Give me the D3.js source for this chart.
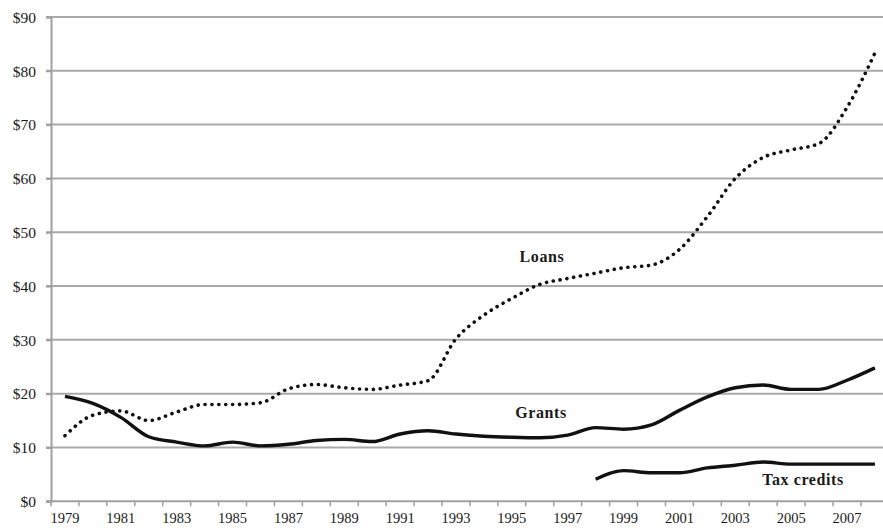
<html>
    <style>
        body {
            margin: 0px;
            background: #fff;
        }
        text {
            font-family: "Liberation Serif", "DejaVu Serif", serif;
            fill: #1a1a1a;
        }
    </style>
<body>
    <svg id='viz'></svg>
</body>

<script src='https://d3js.org/d3.v7.min.js'></script>
<script>
var width = 883;
var height = 528;

// data, billions of dollars
var years = d3.range(1979, 2009);
var yTicks = [0, 10, 20, 30, 40, 50, 60, 70, 80, 90];
var loans = [12.2, 16.0, 16.8, 15.0, 16.6, 18.0, 18.0, 18.3, 20.9, 21.7,
             21.1, 20.8, 21.6, 22.4, 30.2, 34.6, 37.7, 40.3, 41.4, 42.4,
             43.4, 43.9, 46.8, 52.9, 60.0, 63.9, 65.3, 66.5, 73.2, 83.3];
var grants = [19.5, 18.2, 15.6, 12.0, 11.0, 10.3, 11.0, 10.3, 10.6, 11.3,
              11.5, 11.1, 12.5, 13.1, 12.5, 12.1, 11.9, 11.8, 12.3, 13.7,
              13.4, 14.2, 16.9, 19.4, 21.1, 21.6, 20.8, 20.8, 22.5, 24.8];
var taxYears = d3.range(1998, 2009);
var taxCredits = [4.1, 5.7, 5.3, 5.3, 6.2, 6.7, 7.3, 6.9, 6.9, 6.9, 6.9];

var svg = d3.select("#viz").attr("width", width).attr("height", height);

var x = d3.scaleBand().domain(years).range([51, 51 + 30 * 27.93]).padding(0);
var y = d3.scaleLinear().domain([0, 90]).range([501.3, 17]);
var cx = function(yr) { return x(yr) + x.bandwidth() / 2; };

// gridlines
svg.append("g")
    .selectAll("line")
    .data(yTicks.filter(function(d) { return d > 0; }))
    .enter()
    .append("line")
    .attr("x1", 46)
    .attr("x2", width)
    .attr("y1", function(d) { return y(d); })
    .attr("y2", function(d) { return y(d); })
    .attr("stroke", "#a9a9a9")
    .attr("stroke-width", 2);

// y axis
var yAxis = svg.append("g")
    .attr("transform", "translate(51,0)")
    .call(d3.axisLeft(y).tickValues(yTicks).tickSize(5).tickPadding(10)
        .tickFormat(function(d) { return "$" + d; }));
yAxis.select(".domain").attr("stroke", "#a0a0a0").attr("stroke-width", 2);
yAxis.selectAll(".tick line").attr("stroke", "#a0a0a0").attr("stroke-width", 2);
yAxis.selectAll("text")
    .style("font-size", "15.5px")
    .style("fill", "#1a1a1a")
    .attr("dy", "0.34em");

// x axis: tick marks at category boundaries, labels on odd years
var xg = svg.append("g");
xg.append("line")
    .attr("x1", 46).attr("x2", width)
    .attr("y1", y(0)).attr("y2", y(0))
    .attr("stroke", "#a0a0a0").attr("stroke-width", 2);
xg.selectAll("line.tk")
    .data(years)
    .enter()
    .append("line")
    .attr("class", "tk")
    .attr("x1", function(d) { return x(d); })
    .attr("x2", function(d) { return x(d); })
    .attr("y1", y(0))
    .attr("y2", y(0) + 5)
    .attr("stroke", "#a0a0a0")
    .attr("stroke-width", 1.5);
xg.selectAll("text")
    .data(years.filter(function(d) { return d % 2 == 1; }))
    .enter()
    .append("text")
    .attr("x", cx)
    .attr("y", 523)
    .attr("text-anchor", "middle")
    .style("font-size", "14.5px")
    .text(function(d) { return d; });

var line = d3.line()
    .x(function(d) { return cx(d[0]); })
    .y(function(d) { return y(d[1]); })
    .curve(d3.curveMonotoneX);

svg.append("path")
    .datum(d3.zip(years, loans))
    .attr("d", line)
    .attr("fill", "none")
    .attr("stroke", "#111")
    .attr("stroke-width", 3.6)
    .attr("stroke-linecap", "round")
    .attr("stroke-dasharray", "0.1 6.8");

svg.append("path")
    .datum(d3.zip(years, grants))
    .attr("d", line)
    .attr("fill", "none")
    .attr("stroke", "#111")
    .attr("stroke-width", 3.4)
    .attr("stroke-linejoin", "round");

svg.append("path")
    .datum(d3.zip(taxYears, taxCredits))
    .attr("d", line)
    .attr("fill", "none")
    .attr("stroke", "#111")
    .attr("stroke-width", 3.4)
    .attr("stroke-linejoin", "round");

// series labels
var labels = [
    {text: "Loans", x: 542, y: 262},
    {text: "Grants", x: 541, y: 418},
    {text: "Tax credits", x: 803, y: 485}
];
svg.append("g")
    .selectAll("text")
    .data(labels)
    .enter()
    .append("text")
    .attr("x", function(d) { return d.x; })
    .attr("y", function(d) { return d.y; })
    .attr("text-anchor", "middle")
    .style("font-size", "16px")
    .style("font-weight", "bold")
    .style("letter-spacing", "0.6px")
    .text(function(d) { return d.text; });
</script>
</html>
